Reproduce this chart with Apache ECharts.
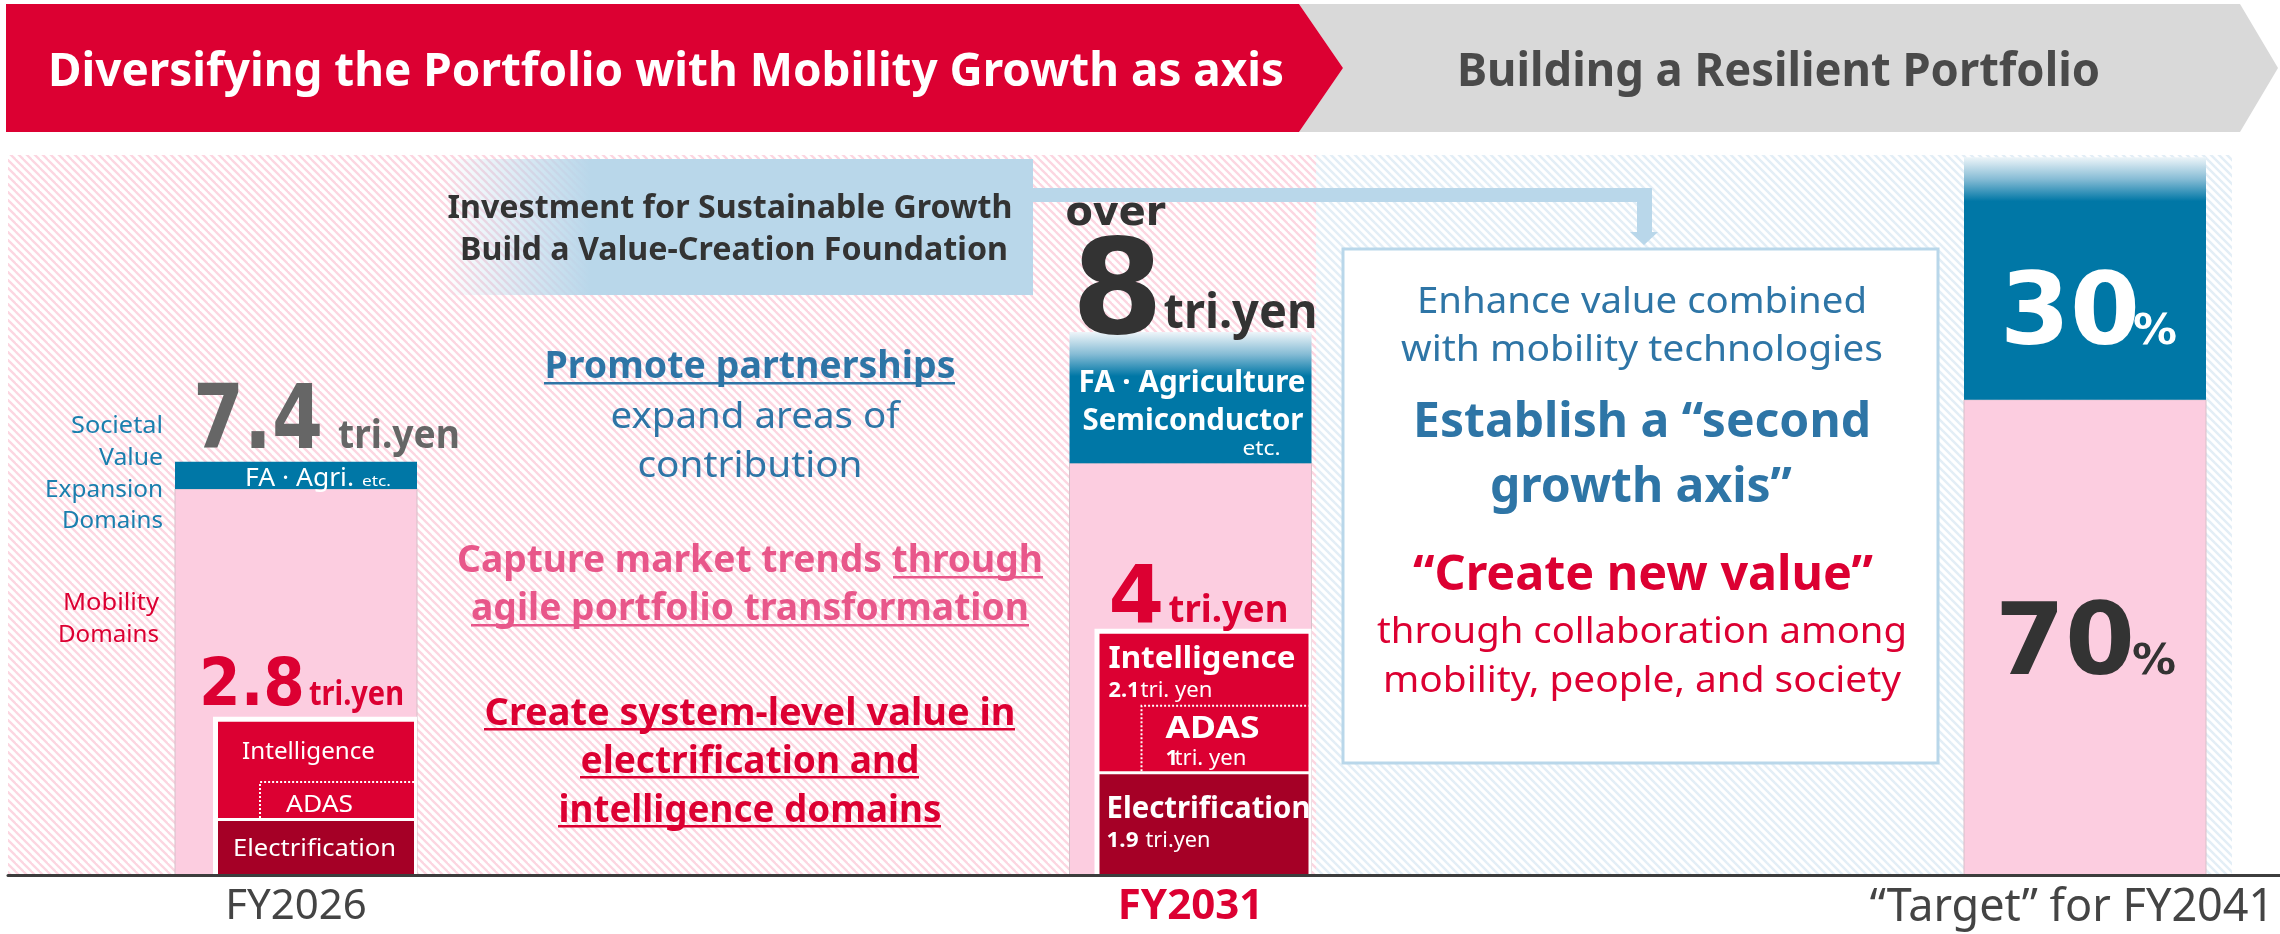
<!DOCTYPE html>
<html>
<head>
<meta charset="utf-8">
<title>Portfolio</title>
<script src="https://cdn.jsdelivr.net/npm/echarts@6/dist/echarts.min.js"></script>
<style>
  html, body { margin: 0; padding: 0; background: #fff; }
  #chart { width: 2280px; height: 934px; }
</style>
</head>
<body>
<div id="chart"></div>
<script>
// ---- data ----
const years = ['FY2026', 'FY2031', '“Target” for FY2041'];
// column heights as drawn, in % of plot height (the picture is not to scale)
const mobilityTop = [53.6, 57.2, 66.0];
const societalTop = [57.4, 75.4, 99.7];
const electrificationTop = [7.5, 14.0];
const intelligenceTop = [21.3, 33.5];
const adasTop = [12.9, 23.5];
// printed figures (tri. yen / %)
const totalLabels = ['7.4', '8'];
const mobilityLabels = ['2.8', '4'];
const intelligenceLabels = ['', '2.1'];
const adasLabels = ['', '1'];
const electrificationLabels = ['', '1.9'];
const shareLabels = ['30', '70'];

// ---- styles ----
const FONT = "'Noto Sans', sans-serif";
const NUM_FONT = "'DejaVu Sans', sans-serif";
const RED = '#dc0032';
const DARK_RED = '#a50026';
const BLUE = '#0077a6';
const PINK = '#fccde0';
const TXT_BLUE = '#2e75a6';
const PINK_TXT = '#e8578a';
const LIGHT_BLUE = '#b9d7ea';
const BAR_W = 242;
const INNER_OFFSET = [43, 30];

const measureCtx = document.createElement('canvas').getContext('2d');

// text placed by its baseline; optional w squeezes it to the width seen in the picture
function txt(text, x, base, size, color, o) {
  o = o || {};
  const weight = o.weight || 'normal';
  const family = o.family || FONT;
  measureCtx.font = weight + ' ' + size + 'px ' + family;
  let sx = 1;
  if (o.w) {
    measureCtx.textBaseline = 'alphabetic';
    sx = Math.max(0.6, Math.min(1.4, o.w / measureCtx.measureText(text).width));
  }
  // distance between the canvas "middle" line and the alphabetic baseline
  measureCtx.textBaseline = 'middle';
  const mid = measureCtx.measureText('H').actualBoundingBoxDescent;
  const align = o.align || 'left';
  return {
    type: 'text',
    x: x,
    y: base - mid,
    scaleX: sx,
    z: 10,
    style: {
      text: text, x: 0, y: 0, fill: color,
      fontSize: size, fontWeight: weight, fontFamily: family,
      align: align, textAlign: align, verticalAlign: 'middle', textVerticalAlign: 'middle'
    }
  };
}

function underline(x0, x1, y, color) {
  return { type: 'rect', z: 10, shape: { x: x0, y: y, width: x1 - x0, height: 2.5 }, style: { fill: color } };
}

function hatch(color, p, lw) {
  const c = document.createElement('canvas');
  c.width = p;
  c.height = p;
  const g = c.getContext('2d');
  g.strokeStyle = color;
  g.lineWidth = lw;
  for (let k = -1; k <= 1; k++) {
    g.beginPath();
    g.moveTo(k * p - 1, -1);
    g.lineTo(k * p + p + 1, p + 1);
    g.stroke();
  }
  return c;
}

// ---- column renderers ----
function renderMobility(params, api) {
  const i = api.value(0);
  const p0 = api.coord([i, 0]);
  const p1 = api.coord([i, api.value(1)]);
  const left = p0[0] - BAR_W / 2;
  const kids = [{
    type: 'rect',
    shape: { x: left, y: p1[1], width: BAR_W, height: p0[1] - p1[1] },
    style: { fill: PINK, stroke: '#d6c0c9', lineWidth: 1 }
  }];
  if (i === 2) {
    kids.push(
      txt(shareLabels[1], left + 31, p1[1] + 274, 100, '#333', { weight: 'bold', family: NUM_FONT, w: 140 }),
      txt('%', left + 168, p1[1] + 274, 42, '#333', { weight: 'bold', family: NUM_FONT, w: 44 })
    );
  }
  return { type: 'group', children: kids };
}

function renderSocietal(params, api) {
  const i = api.value(0);
  const pb = api.coord([i, api.value(1)]);
  const pt = api.coord([i, api.value(2)]);
  const left = pb[0] - BAR_W / 2;
  const top = pt[1];
  const bot = pb[1];
  const h = bot - top;
  let fill = BLUE;
  if (i > 0) {
    const g = Math.min(1, 44 / h);
    fill = new echarts.graphic.LinearGradient(0, 0, 0, 1, [
      { offset: 0, color: '#eef5f9' },
      { offset: g * 0.5, color: '#86bcd5' },
      { offset: g, color: BLUE },
      { offset: 1, color: BLUE }
    ]);
  }
  const kids = [{ type: 'rect', shape: { x: left, y: top, width: BAR_W, height: h }, style: { fill: fill } }];
  if (i === 0) {
    kids.push(
      txt(totalLabels[0], left + 18, top - 14, 89, '#666', { weight: 'bold', family: NUM_FONT, w: 130 }),
      txt('tri.yen', left + 163, top - 14, 40, '#666', { weight: 'bold', w: 122 }),
      txt('FA · Agri.', left + 70, bot - 3, 25, '#fff', { w: 109 }),
      txt('etc.', left + 187, bot - 3, 15, '#fff', { w: 29 })
    );
  } else if (i === 1) {
    kids.push(
      txt('over', left - 4, top - 107, 40, '#333', { weight: 'bold', family: NUM_FONT, w: 100 }),
      txt(totalLabels[1], left + 2, top + 1, 132, '#333', { weight: 'bold', family: NUM_FONT }),
      txt('tri.yen', left + 94, top - 4, 48, '#333', { weight: 'bold', w: 154 }),
      txt('FA · Agriculture', left + 9, top + 60, 30, '#fff', { weight: 'bold', w: 227 }),
      txt('Semiconductor', left + 13, top + 98, 30, '#fff', { weight: 'bold', w: 221 }),
      txt('etc.', left + 173, top + 123, 20, '#fff', { w: 38 })
    );
  } else {
    kids.push(
      txt(shareLabels[0], left + 36, bot - 56, 100, '#fff', { weight: 'bold', family: NUM_FONT, w: 140 }),
      txt('%', left + 169, bot - 56, 42, '#fff', { weight: 'bold', family: NUM_FONT, w: 44 })
    );
  }
  return { type: 'group', children: kids };
}

function renderBreakdown(params, api) {
  const i = api.value(0);
  const base = api.coord([i, 0]);
  const yE = api.coord([i, api.value(1)])[1];
  const yI = api.coord([i, api.value(2)])[1];
  const yA = api.coord([i, api.value(3)])[1];
  const barL = base[0] - BAR_W / 2;
  const barR = base[0] + BAR_W / 2;
  const inL = barL + INNER_OFFSET[i];
  const inR = barR - 3;
  const adasX = inL + 42;
  const kids = [
    { type: 'rect', shape: { x: inL - 5, y: yI - 5, width: barR - inL + 5, height: base[1] - yI + 5 }, style: { fill: '#fff' } },
    { type: 'rect', shape: { x: inL, y: yI, width: inR - inL, height: yE - 3 - yI }, style: { fill: RED } },
    { type: 'rect', shape: { x: inL, y: yE, width: inR - inL, height: base[1] - yE }, style: { fill: DARK_RED } },
    {
      type: 'polyline',
      shape: { points: [[adasX, yE - 3], [adasX, yA], [inR, yA]] },
      style: { stroke: '#fff', lineWidth: 2, lineDash: [2, 2], fill: null }
    }
  ];
  if (i === 0) {
    kids.push(
      txt(mobilityLabels[0], barL + 24, yI - 17, 66, RED, { weight: 'bold', family: NUM_FONT, w: 106 }),
      txt('tri.yen', barL + 134, yI - 17, 34, RED, { weight: 'bold', w: 95 }),
      txt('Intelligence', inL + 24, yI + 37, 24, '#fff', { w: 133 }),
      txt('ADAS', adasX + 26, yA + 30, 24, '#fff', { w: 67 }),
      txt('Electrification', inL + 15, yE + 35, 24, '#fff', { w: 163 })
    );
  } else {
    kids.push(
      txt(mobilityLabels[1], barL + 39, yI - 11, 80, RED, { weight: 'bold', family: NUM_FONT }),
      txt('tri.yen', barL + 99, yI - 12, 38, RED, { weight: 'bold', w: 120 }),
      txt('Intelligence', inL + 9, yI + 34, 30, '#fff', { weight: 'bold', w: 187 }),
      txt(intelligenceLabels[1], inL + 9, yI + 63, 22, '#fff', { weight: 'bold', w: 31 }),
      txt('tri. yen', inL + 41, yI + 63, 22, '#fff', { w: 72 }),
      txt('ADAS', adasX + 24, yA + 32, 30, '#fff', { weight: 'bold', w: 94 }),
      txt(adasLabels[1], adasX + 24, yA + 59, 22, '#fff', { weight: 'bold' }),
      txt('tri. yen', adasX + 33, yA + 59, 22, '#fff', { w: 72 }),
      txt('Electrification', inL + 7, yE + 44, 30, '#fff', { weight: 'bold', w: 204 }),
      txt(electrificationLabels[1], inL + 7, yE + 73, 22, '#fff', { weight: 'bold', w: 32 }),
      txt('tri.yen', inL + 46, yE + 73, 22, '#fff', { w: 65 })
    );
  }
  return { type: 'group', children: kids };
}

// ---- decoration: banners, hatching, notes ----
const graphics = [
  { type: 'rect', z: 0, shape: { x: 8, y: 155, width: 1308, height: 720 }, style: { fill: { image: hatch('#fcd6e1', 8, 2.3), repeat: 'repeat' } } },
  { type: 'rect', z: 0, shape: { x: 1316, y: 155, width: 916, height: 720 }, style: { fill: { image: hatch('#e3eef6', 8, 2.5), repeat: 'repeat' } } },
  { type: 'polygon', z: 1, shape: { points: [[1299, 4], [2240, 4], [2278, 68], [2240, 132], [1299, 132], [1343, 68]] }, style: { fill: '#d9d9d9' } },
  { type: 'polygon', z: 1, shape: { points: [[6, 4], [1299, 4], [1343, 68], [1299, 132], [6, 132]] }, style: { fill: RED } },
  {
    type: 'rect', z: 1, shape: { x: 443, y: 159, width: 590, height: 136 },
    style: {
      fill: new echarts.graphic.LinearGradient(0, 0, 1, 0, [
        { offset: 0, color: 'rgba(185,215,234,0)' },
        { offset: 0.25, color: LIGHT_BLUE },
        { offset: 1, color: LIGHT_BLUE }
      ])
    }
  },
  {
    type: 'polygon', z: 1,
    shape: { points: [[1033, 188], [1652, 188], [1652, 232], [1658, 232], [1644, 245], [1630, 232], [1637, 232], [1637, 202], [1033, 202]] },
    style: { fill: LIGHT_BLUE }
  },
  { type: 'rect', z: 1, shape: { x: 1343, y: 249, width: 595, height: 514 }, style: { fill: '#fff', stroke: LIGHT_BLUE, lineWidth: 3 } },

  txt('Diversifying the Portfolio with Mobility Growth as axis', 48, 86, 47, '#fff', { weight: 'bold', w: 1236 }),
  txt('Building a Resilient Portfolio', 1457, 86, 47, '#4a4a4a', { weight: 'bold', w: 643 }),

  txt('Investment for Sustainable Growth', 730, 218, 33, '#333', { weight: 'bold', w: 565, align: 'center' }),
  txt('Build a Value-Creation Foundation', 734, 260, 33, '#333', { weight: 'bold', w: 548, align: 'center' }),

  txt('Promote partnerships', 750, 378, 38, TXT_BLUE, { weight: 'bold', w: 411, align: 'center' }),
  underline(544, 955, 382, TXT_BLUE),
  txt('expand areas of', 755, 428, 36, TXT_BLUE, { w: 289, align: 'center' }),
  txt('contribution', 750, 477, 36, TXT_BLUE, { w: 225, align: 'center' }),

  txt('Capture market trends through', 750, 572, 38, PINK_TXT, { weight: 'bold', w: 586, align: 'center' }),
  underline(893, 1043, 576, PINK_TXT),
  txt('agile portfolio transformation', 750, 620, 38, PINK_TXT, { weight: 'bold', w: 558, align: 'center' }),
  underline(471, 1029, 624, PINK_TXT),

  txt('Create system-level value in', 750, 725, 38, RED, { weight: 'bold', w: 531, align: 'center' }),
  underline(484, 1015, 728, RED),
  txt('electrification and', 750, 773, 38, RED, { weight: 'bold', w: 339, align: 'center' }),
  underline(580, 919, 776, RED),
  txt('intelligence domains', 750, 822, 38, RED, { weight: 'bold', w: 383, align: 'center' }),
  underline(558, 941, 825, RED),

  txt('Societal', 163, 433, 24, '#1a7fae', { w: 92, align: 'right' }),
  txt('Value', 163, 465, 24, '#1a7fae', { w: 64, align: 'right' }),
  txt('Expansion', 163, 497, 24, '#1a7fae', { w: 118, align: 'right' }),
  txt('Domains', 163, 528, 24, '#1a7fae', { w: 101, align: 'right' }),
  txt('Mobility', 159, 610, 24, RED, { w: 96, align: 'right' }),
  txt('Domains', 159, 642, 24, RED, { w: 101, align: 'right' }),

  txt('Enhance value combined', 1642, 313, 36, TXT_BLUE, { w: 450, align: 'center' }),
  txt('with mobility technologies', 1642, 361, 36, TXT_BLUE, { w: 482, align: 'center' }),
  txt('Establish a “second', 1642, 437, 48, TXT_BLUE, { weight: 'bold', w: 458, align: 'center' }),
  txt('growth axis”', 1641, 502, 48, TXT_BLUE, { weight: 'bold', w: 302, align: 'center' }),
  txt('“Create new value”', 1643, 590, 48, RED, { weight: 'bold', w: 460, align: 'center' }),
  txt('through collaboration among', 1642, 643, 36, RED, { w: 530, align: 'center' }),
  txt('mobility, people, and society', 1642, 692, 36, RED, { w: 518, align: 'center' })
];

const chart = echarts.init(document.getElementById('chart'), null, { renderer: 'canvas' });
chart.setOption({
  animation: false,
  backgroundColor: '#fff',
  grid: [
    { left: 296, right: 195, top: 155, bottom: 59 },
    { left: 8, right: 0, top: 155, bottom: 59 }
  ],
  xAxis: [
    {
      gridIndex: 0,
      type: 'category',
      data: years,
      boundaryGap: false,
      axisLine: { show: false },
      axisTick: { show: false },
      splitLine: { show: false },
      axisLabel: {
        interval: 0,
        margin: 11,
        fontSize: 42,
        color: '#444',
        fontFamily: FONT,
        formatter: function (v, idx) {
          if (idx === 1) return '{hi|' + v + '}';
          if (idx === 2) return '{end|' + v + '}';
          return v;
        },
        rich: {
          hi: { color: RED, fontWeight: 'bold', fontSize: 42, fontFamily: FONT },
          end: { color: '#444', fontSize: 45, fontFamily: FONT, padding: [0, 26, 0, 0] }
        }
      }
    },
    {
      gridIndex: 1,
      type: 'value',
      min: 0,
      max: 1,
      z: 5,
      axisLine: { show: true, lineStyle: { color: '#3d3d3d', width: 3 } },
      axisTick: { show: false },
      axisLabel: { show: false },
      splitLine: { show: false }
    }
  ],
  yAxis: [
    { gridIndex: 0, type: 'value', min: 0, max: 100, show: false },
    { gridIndex: 1, type: 'value', min: 0, max: 1, show: false }
  ],
  graphic: { elements: graphics },
  series: [
    {
      name: 'Mobility domains',
      type: 'custom',
      z: 3,
      renderItem: renderMobility,
      data: mobilityTop.map((v, i) => [i, v])
    },
    {
      name: 'Societal value expansion domains',
      type: 'custom',
      z: 3,
      renderItem: renderSocietal,
      data: societalTop.map((v, i) => [i, mobilityTop[i], v])
    },
    {
      name: 'Mobility breakdown',
      type: 'custom',
      z: 4,
      renderItem: renderBreakdown,
      data: electrificationTop.map((v, i) => [i, v, intelligenceTop[i], adasTop[i]])
    }
  ]
});
</script>
</body>
</html>
